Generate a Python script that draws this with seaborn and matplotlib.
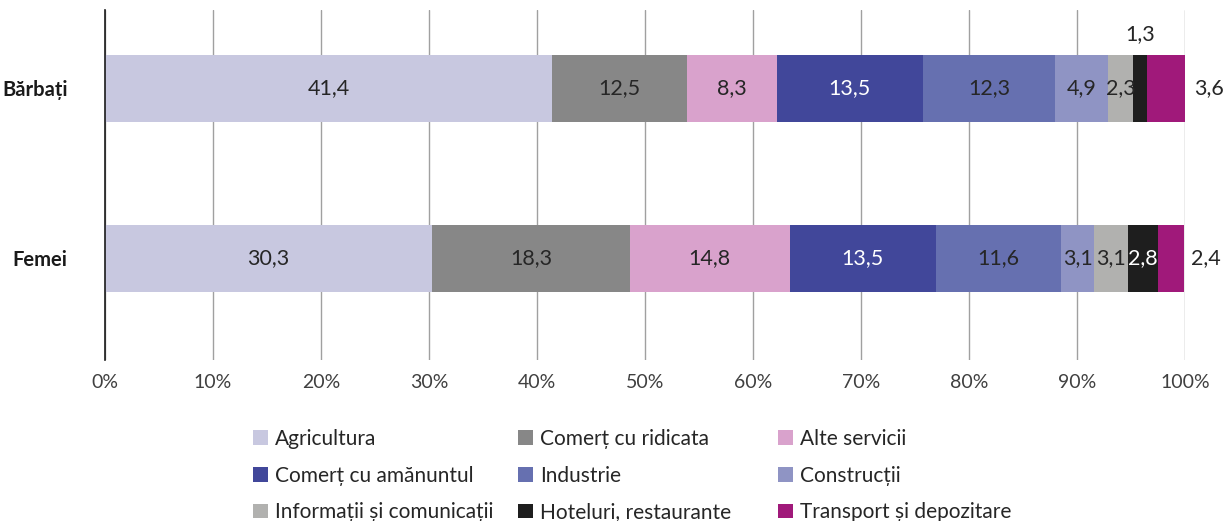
import numpy as np
import pandas as pd
import matplotlib
matplotlib.use("Agg")
import matplotlib.pyplot as plt
import seaborn as sns
from matplotlib.patches import Patch

groups = ["Bărbați", "Femei"]
sectors = ["Agricultura", "Comerț cu ridicata", "Alte servicii",
           "Comerț cu amănuntul", "Industrie", "Construcții",
           "Informații și comunicații", "Hoteluri, restaurante",
           "Transport și depozitare"]
barbati = [41.4, 12.5, 8.3, 13.5, 12.3, 4.9, 2.3, 1.3, 3.6]
femei = [30.3, 18.3, 14.8, 13.5, 11.6, 3.1, 3.1, 2.8, 2.4]
colors = ["#C8C8E0", "#878787", "#D9A2CC", "#41479A", "#6670B0",
          "#8F94C4", "#B1B1AF", "#1E1E1E", "#A0197A"]
text_colors = ["#262626", "#262626", "#262626", "white", "#262626",
               "#262626", "#262626", "white", "#262626"]
xticks = [0, 10, 20, 30, 40, 50, 60, 70, 80, 90, 100]
xticklabels = ["0%", "10%", "20%", "30%", "40%", "50%", "60%", "70%", "80%", "90%", "100%"]

sns.set_theme(style="white")
plt.rcParams["font.family"] = ["Lato", "DejaVu Sans"]

values = np.array([barbati, femei])  # shape (2, 9)
cum = np.cumsum(values, axis=1)

fig = plt.figure(figsize=(12.28, 5.21), dpi=100)
ax = fig.add_axes([105/1228, 1-360/521, 1080/1228, 350/521])

# stacked via cumulative overlapping bars, drawn from last to first
for j in range(len(sectors) - 1, -1, -1):
    df = pd.DataFrame({"group": groups, "value": cum[:, j]})
    sns.barplot(data=df, x="value", y="group", color=colors[j], orient="h",
                width=0.394, saturation=1, ax=ax, edgecolor="none", linewidth=0,
                zorder=2)

ax.set_xlim(0, 100)
ax.set_ylim(1.6, -0.46)
ax.set_xticks(xticks)
ax.set_xticklabels(xticklabels, fontsize=14, color="#404040")
ax.tick_params(axis="x", length=0, pad=10)
ax.tick_params(axis="y", length=0, pad=27)
for lbl in ax.get_yticklabels():
    lbl.set_fontweight("bold")
    lbl.set_fontsize(14.5)
    lbl.set_color("#1a1a1a")
ax.set_xlabel("")
ax.set_ylabel("")
ax.grid(axis="x", color="#A0A0A0", linewidth=1)
ax.set_axisbelow(True)
for s in ["top", "right", "bottom"]:
    ax.spines[s].set_visible(False)
ax.spines["left"].set_color("#1a1a1a")
ax.spines["left"].set_linewidth(1.2)
ax.spines["left"].set_zorder(5)

# value labels
fs = 15.5
for i in range(2):
    for j in range(len(sectors)):
        v = values[i, j]
        center = cum[i, j] - v / 2
        lab = f"{v:.1f}".replace(".", ",")
        if j == len(sectors) - 1:
            ax.text(cum[i, j] + 0.7, i, lab, ha="left", va="center",
                    fontsize=fs, color="#262626", zorder=6)
        elif i == 0 and j == 7:
            ax.text(center, i - 0.32, lab, ha="center", va="center",
                    fontsize=fs, color="#262626", zorder=6)
        else:
            ax.text(center, i, lab, ha="center", va="center",
                    fontsize=fs, color=text_colors[j], zorder=6)

# legend: three columns, placed separately, row-major order
col_x = [253, 518, 778]
for c in range(3):
    idx = [c, c + 3, c + 6]
    hs = [Patch(facecolor=colors[k], edgecolor="none") for k in idx]
    labs = [sectors[k] for k in idx]
    leg = fig.legend(hs, labs, loc="upper left",
                     bbox_to_anchor=(col_x[c]/1228, 1-429/521),
                     frameon=False, fontsize=15, handlelength=0.7, handleheight=0.7,
                     handletextpad=0.35, labelspacing=0.8,
                     labelcolor="#262626", borderaxespad=0, borderpad=0)

fig.savefig("out.png", dpi=100)
